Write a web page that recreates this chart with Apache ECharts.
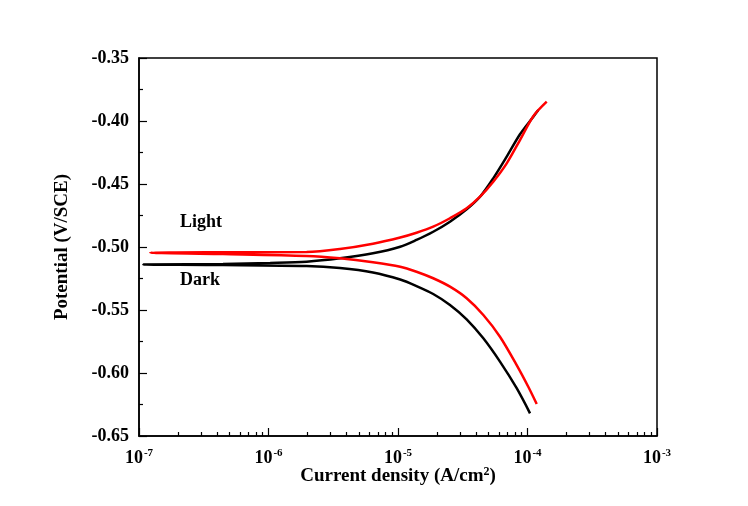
<!DOCTYPE html>
<html>
<head>
<meta charset="utf-8">
<script src="https://cdn.jsdelivr.net/npm/echarts@6/dist/echarts.min.js"></script>
<style>
html, body { margin: 0; padding: 0; background: #fff; }
#main { width: 748px; height: 506px; }
</style>
</head>
<body>
<div id="main"></div>
<script>
// each curve: cathodic branch (high current -> low), then anodic branch (low -> high)
var lightCurrent = [1.178e-4, 1.014e-4, 8.25e-5, 6.13e-5, 4.56e-5, 3.39e-5, 2.52e-5, 1.87e-5, 1.39e-5, 1.04e-5, 6.41e-6, 3.56e-6, 1.97e-6, 4.45e-7, 1.22e-7,
                    4.45e-7, 1.97e-6, 3.56e-6, 6.41e-6, 1.04e-5, 1.39e-5, 1.87e-5, 2.52e-5, 3.39e-5, 4.30e-5, 5.44e-5, 6.91e-5, 8.75e-5, 1.109e-4, 1.407e-4];
var lightPotential = [-0.6246, -0.6109, -0.5937, -0.5712, -0.5540, -0.5407, -0.5315, -0.5248, -0.5196, -0.5156, -0.5121, -0.5090, -0.5071, -0.5056, -0.5046,
                      -0.5042, -0.5040, -0.5016, -0.4974, -0.4925, -0.4887, -0.4839, -0.4772, -0.4693, -0.4601, -0.4482, -0.4336, -0.4151, -0.3962, -0.3847];

var darkCurrent = [1.046e-4, 8.25e-5, 6.13e-5, 4.56e-5, 3.39e-5, 2.52e-5, 1.87e-5, 1.39e-5, 1.04e-5, 6.41e-6, 3.56e-6, 1.97e-6, 4.45e-7, 1.08e-7,
                   4.45e-7, 1.03e-6, 1.97e-6, 3.56e-6, 6.41e-6, 1.04e-5, 1.39e-5, 1.87e-5, 2.52e-5, 3.39e-5, 4.30e-5, 5.44e-5, 6.91e-5, 8.75e-5, 1.109e-4, 1.212e-4];
var darkPotential = [-0.6320, -0.6121, -0.5910, -0.5725, -0.5574, -0.5460, -0.5373, -0.5310, -0.5258, -0.5202, -0.5167, -0.5151, -0.5143, -0.5139,
                     -0.5135, -0.5127, -0.5117, -0.5090, -0.5050, -0.4998, -0.4944, -0.4879, -0.4799, -0.4701, -0.4601, -0.4455, -0.4283, -0.4105, -0.3966, -0.3913];

var xMajorTicks = [1e-7, 1e-6, 1e-5, 1e-4, 1e-3];
var xMinorTicks = [];
for (var d = -7; d < -3; d++) {
    for (var m = 2; m <= 9; m++) {
        xMinorTicks.push(m * Math.pow(10, d));
    }
}

function pairs(xs, ys) {
    var out = [];
    for (var i = 0; i < xs.length; i++) out.push([xs[i], ys[i]]);
    return out;
}

var font = 'Liberation Serif';
var myChart = echarts.init(document.getElementById('main'));

var option = {
    backgroundColor: '#fff',
    animation: false,
    grid: {
        left: 139, right: 91, top: 58, bottom: 70,
        show: true, borderColor: '#000', borderWidth: 1.5
    },
    xAxis: [{
        type: 'log',
        logBase: 10,
        min: 1e-7,
        max: 1e-3,
        position: 'bottom',
        name: 'Current density (A/cm{s|2})',
        nameLocation: 'middle',
        nameGap: 30,
        nameMoveOverlap: false,
        nameTextStyle: {
            fontFamily: font, fontWeight: 'bold', fontSize: 19, color: '#000',
            rich: {
                s: { fontFamily: font, fontWeight: 'bold', fontSize: 12, color: '#000', padding: [0, 0, 9, 0] }
            }
        },
        axisLine: { lineStyle: { color: '#000', width: 1.5 } },
        axisTick: { inside: true, length: 8, customValues: xMajorTicks, lineStyle: { color: '#000', width: 1.2 } },
        splitLine: { show: false },
        axisLabel: {
            customValues: xMajorTicks,
            margin: 12,
            formatter: function (v) {
                return '{b|10}{e|' + Math.round(Math.log10(v)) + '}';
            },
            rich: {
                b: { fontFamily: font, fontWeight: 'bold', fontSize: 18, color: '#000' },
                e: { fontFamily: font, fontWeight: 'bold', fontSize: 11, color: '#000', padding: [0, 0, 10, 1] }
            }
        }
    }, {
        type: 'log',
        logBase: 10,
        min: 1e-7,
        max: 1e-3,
        position: 'bottom',
        axisLine: { show: false },
        axisTick: { inside: true, length: 4, customValues: xMinorTicks, lineStyle: { color: '#000', width: 1.2 } },
        axisLabel: { show: false },
        splitLine: { show: false }
    }],
    yAxis: {
        type: 'value',
        min: -0.65,
        max: -0.35,
        interval: 0.05,
        name: 'Potential (V/SCE)',
        nameLocation: 'middle',
        nameGap: 67,
        nameMoveOverlap: false,
        nameTextStyle: { fontFamily: font, fontWeight: 'bold', fontSize: 19, color: '#000' },
        axisLine: { lineStyle: { color: '#000', width: 1.5 } },
        axisTick: { inside: true, length: 8, lineStyle: { color: '#000', width: 1.2 } },
        minorTick: { show: true, splitNumber: 2, length: 4, lineStyle: { color: '#000', width: 1.2 } },
        splitLine: { show: false },
        axisLabel: {
            margin: 10,
            fontFamily: font, fontWeight: 'bold', fontSize: 18, color: '#000',
            formatter: function (v) { return v.toFixed(2); }
        }
    },
    graphic: [
        { type: 'text', left: 180, top: 213, style: { text: 'Light', font: 'bold 18px "Liberation Serif"', fill: '#000' } },
        { type: 'text', left: 180, top: 271, style: { text: 'Dark', font: 'bold 18px "Liberation Serif"', fill: '#000' } }
    ],
    series: [{
        name: 'Dark',
        type: 'line',
        smooth: 0.3,
        showSymbol: false,
        data: pairs(darkCurrent, darkPotential),
        lineStyle: { color: '#000', width: 2.5 }
    }, {
        name: 'Light',
        type: 'line',
        smooth: 0.3,
        showSymbol: false,
        data: pairs(lightCurrent, lightPotential),
        lineStyle: { color: '#ff0000', width: 2.5 }
    }]
};

myChart.setOption(option);
window.addEventListener('resize', function () {
    myChart.resize();
});
</script>
</body>
</html>
